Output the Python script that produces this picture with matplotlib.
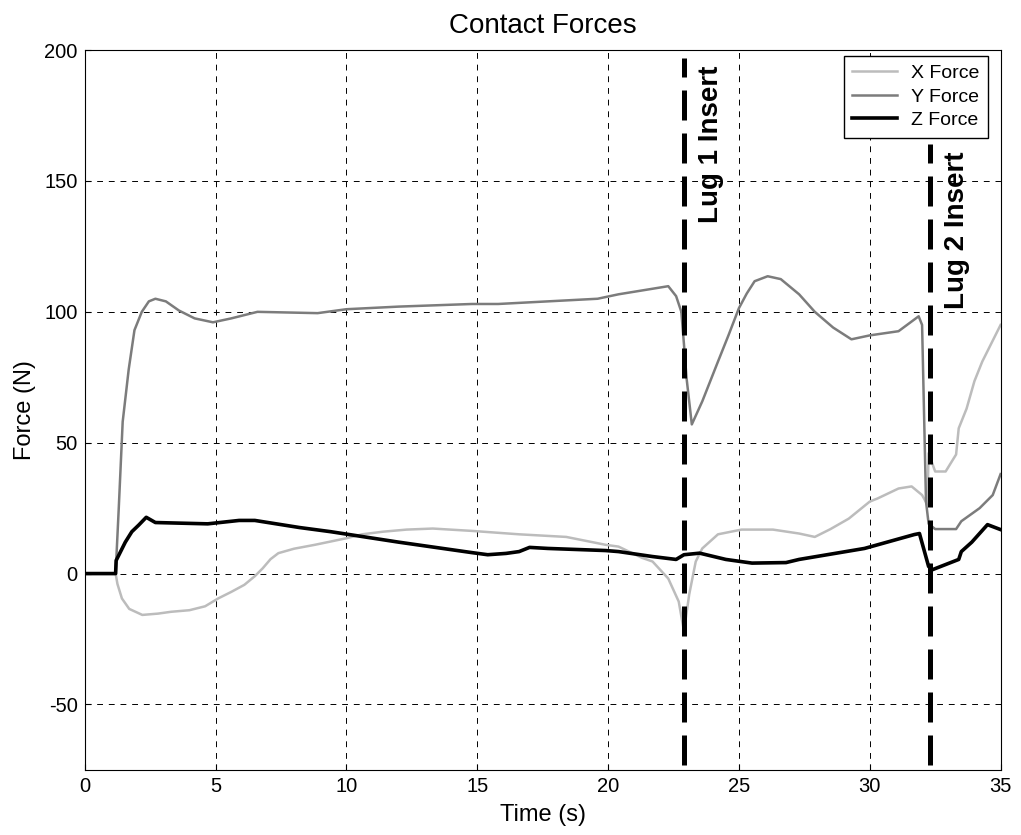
import numpy as np
import matplotlib.pyplot as plt

plt.rcParams['font.family'] = ['Liberation Sans', 'DejaVu Sans']
plt.rcParams['axes.unicode_minus'] = False

# X方向の力 (明るい灰色)
t_x = [0, 1.18, 1.25, 1.42, 1.7, 2.2, 2.8, 3.3, 4.0, 4.6, 5.1, 5.6, 6.1, 6.5, 6.8, 7.1,
       7.4, 8.0, 8.8, 10, 10.6, 11.4, 12.3, 13.3, 14.8, 16.6, 18.4, 19.9, 20.4, 21.3, 21.7,
       22.3, 22.7, 22.9, 23.1, 23.35, 23.6, 24.2, 25.1, 26.3, 27.3, 27.9, 28.5, 29.2, 30.0,
       30.3, 31.1, 31.6, 32.0, 32.2, 32.25, 32.5, 32.9, 33.3, 33.4, 33.7, 34.0, 34.3, 34.7,
       35.0]
f_x = [0, 0, -4, -9.5, -13.5, -15.8, -15.3, -14.6, -14, -12.5, -9.5, -7, -4.3, -1, 2, 5.5,
       7.8, 9.5, 11, 13.5, 15, 16, 16.8, 17.2, 16.3, 15, 14, 11, 10.3, 6, 4.6,
       -1.9, -10.7, -22, -8, 4.6, 9.6, 15, 16.8, 16.8, 15.3, 14, 17, 21, 27.5,
       28.7, 32.5, 33.3, 30, 26.4, 46, 39, 39, 45.5, 55.5, 63, 73.5, 81, 89,
       95]

# Y方向の力 (中間の灰色)
t_y = [0, 1.18, 1.3, 1.45, 1.68, 1.9, 2.18, 2.45, 2.7, 3.1, 3.6, 4.2, 4.9, 5.6, 6.6, 8.9,
       10, 12, 14.8, 15.8, 19.6, 20.4, 22.3, 22.6, 22.8, 22.9, 23.0, 23.2, 23.6, 24.2, 24.6,
       25.0, 25.3, 25.6, 26.1, 26.6, 27.3, 27.9, 28.6, 29.3, 30.0, 31.1, 31.87, 32.0, 32.15,
       32.25, 32.5, 33.3, 33.5, 34.2, 34.7, 35.0]
f_y = [0, 0, 25, 58, 78, 93, 100, 104, 105, 104, 100.5, 97.5, 96, 97.5, 100, 99.5,
       101, 102, 103, 103, 105, 106.7, 109.8, 106, 100, 87.6, 74.6, 57, 65.8, 81, 91,
       101.4, 107, 111.7, 113.6, 112.5, 106.7, 100, 94, 89.5, 91, 92.6, 98.3, 95, 27.5,
       19, 17, 17, 20, 25, 30, 38]

# Z方向の力 (黒)
t_z = [0, 1.18, 1.2, 1.35, 1.55, 1.8, 2.06, 2.35, 2.7, 4.7, 5.9, 6.5, 8.2, 9.4, 12, 14.8,
       15.4, 16.1, 16.6, 17, 17.7, 19.9, 20.4, 21.7, 22.6, 22.9, 23.5, 24.5, 25.5, 26.8,
       27.3, 29.8, 31.7, 31.9, 32.25, 32.4, 33.4, 33.5, 33.9, 34.5, 35.0]
f_z = [0, 0, 5, 8, 12, 16, 18.5, 21.5, 19.5, 19, 20.3, 20.3, 17.6, 16, 12, 8,
       7.2, 7.7, 8.4, 10, 9.6, 8.8, 8.4, 6.5, 5.4, 7.2, 7.8, 5.4, 4, 4.2,
       5.4, 9.6, 14.9, 15.3, 2.7, 1.5, 5.4, 8.4, 12, 18.7, 16.8]

# 挿入のタイミング
lug_t = [22.9, 32.3]
lug_top = [197, 164]
lug_labels = ["Lug 1 Insert", "Lug 2 Insert"]
lug_label_y = [164, 131]


def main():
    fig = plt.figure(figsize=(10.21, 8.35), dpi=100)
    ax = fig.add_axes([0.083, 0.078, 0.897, 0.862])

    ax.plot(t_x, f_x, color='#bcbcbc', lw=1.8, label='X Force')
    ax.plot(t_y, f_y, color='#7c7c7c', lw=1.8, label='Y Force')
    ax.plot(t_z, f_z, color='black', lw=2.6, label='Z Force')

    for t, top, lab, ly in zip(lug_t, lug_top, lug_labels, lug_label_y):
        ax.plot([t, t], [-73, top], color='black', lw=3.6, dashes=(6, 2.6))
        ax.text(t + 1.05, ly, lab, rotation=90, fontsize=20, fontweight='bold',
                ha='center', va='center')

    ax.set_xlim(0, 35)
    ax.set_ylim(-75, 200)
    ax.set_xticks(np.arange(0, 36, 5))
    ax.set_yticks([-50, 0, 50, 100, 150, 200])
    ax.grid(True, color='black', linestyle=(0, (6, 6)), lw=0.7)
    ax.tick_params(labelsize=14.5, direction='in', length=4, pad=5)
    for s in ax.spines.values():
        s.set_linewidth(0.8)
    ax.set_xlabel("Time (s)", fontsize=17, labelpad=6)
    ax.set_ylabel("Force (N)", fontsize=17, labelpad=6)
    ax.set_title("Contact Forces", fontsize=20, pad=12)
    ax.legend(loc='upper right', fontsize=14, fancybox=False, edgecolor='black',
              framealpha=1, handlelength=2.3, borderpad=0.45, labelspacing=0.3,
              handletextpad=0.7, borderaxespad=0, bbox_to_anchor=(0.986, 0.992))

    fig.savefig("out.png")


if __name__ == "__main__":
    main()
